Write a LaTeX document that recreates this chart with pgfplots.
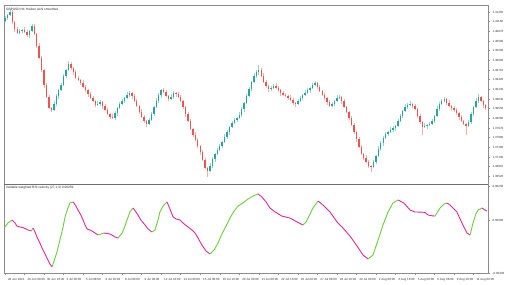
\documentclass[border=0pt]{standalone}
\usepackage{fontspec}
\setmainfont{Liberation Sans}
\usepackage{pgfplots}
\usepackage{pgfplotstable}
\pgfplotsset{compat=1.18}
\definecolor{upc}{RGB}{38,166,154}
\definecolor{dnc}{RGB}{239,83,80}
\definecolor{upw}{RGB}{150,212,206}
\definecolor{dnw}{RGB}{246,176,174}
\definecolor{vgreen}{RGB}{110,205,60}
\definecolor{vpink}{RGB}{225,40,150}
\definecolor{framec}{RGB}{140,140,140}

\pgfplotstableread{
i o c h l
0 1.4118 1.4127 1.4133 1.4114
1 1.4127 1.4136 1.4139 1.4120
2 1.4136 1.4145 1.4153 1.4133
3 1.4145 1.4115 1.4150 1.4110
4 1.4115 1.4094 1.4119 1.4085
5 1.4094 1.4082 1.4101 1.4080
6 1.4082 1.4088 1.4094 1.4078
7 1.4088 1.4091 1.4094 1.4081
8 1.4091 1.4085 1.4099 1.4082
9 1.4085 1.4076 1.4090 1.4071
10 1.4076 1.4088 1.4092 1.4067
11 1.4088 1.4103 1.4110 1.4086
12 1.4103 1.4079 1.4109 1.4075
13 1.4079 1.4043 1.4082 1.4036
14 1.4043 1.4007 1.4051 1.4004
15 1.4007 1.3971 1.4012 1.3966
16 1.3971 1.3926 1.3975 1.3917
17 1.3926 1.3890 1.3933 1.3888
18 1.3890 1.3857 1.3896 1.3853
19 1.3857 1.3851 1.3860 1.3844
20 1.3851 1.3869 1.3877 1.3848
21 1.3869 1.3893 1.3898 1.3864
22 1.3893 1.3911 1.3915 1.3884
23 1.3911 1.3926 1.3933 1.3909
24 1.3926 1.3953 1.3959 1.3922
25 1.3953 1.3971 1.3974 1.3946
26 1.3971 1.3989 1.3997 1.3968
27 1.3989 1.3977 1.3994 1.3972
28 1.3977 1.3965 1.3981 1.3956
29 1.3965 1.3947 1.3972 1.3945
30 1.3947 1.3941 1.3953 1.3937
31 1.3941 1.3932 1.3944 1.3925
32 1.3932 1.3920 1.3940 1.3917
33 1.3920 1.3911 1.3925 1.3906
34 1.3911 1.3899 1.3915 1.3890
35 1.3899 1.3887 1.3906 1.3885
36 1.3887 1.3878 1.3893 1.3874
37 1.3878 1.3866 1.3881 1.3859
38 1.3866 1.3869 1.3877 1.3863
39 1.3869 1.3875 1.3880 1.3864
40 1.3875 1.3863 1.3879 1.3854
41 1.3863 1.3851 1.3870 1.3849
42 1.3851 1.3839 1.3857 1.3835
43 1.3839 1.3830 1.3842 1.3823
44 1.3830 1.3827 1.3838 1.3824
45 1.3827 1.3842 1.3847 1.3822
46 1.3842 1.3857 1.3861 1.3833
47 1.3857 1.3869 1.3876 1.3855
48 1.3869 1.3878 1.3884 1.3865
49 1.3878 1.3887 1.3890 1.3871
50 1.3887 1.3896 1.3904 1.3884
51 1.3896 1.3902 1.3907 1.3891
52 1.3902 1.3893 1.3906 1.3884
53 1.3893 1.3878 1.3900 1.3876
54 1.3878 1.3863 1.3884 1.3859
55 1.3863 1.3845 1.3866 1.3838
56 1.3845 1.3830 1.3853 1.3827
57 1.3830 1.3818 1.3835 1.3813
58 1.3818 1.3809 1.3822 1.3800
59 1.3809 1.3821 1.3828 1.3807
60 1.3821 1.3839 1.3845 1.3817
61 1.3839 1.3860 1.3863 1.3832
62 1.3860 1.3878 1.3886 1.3857
63 1.3878 1.3896 1.3901 1.3873
64 1.3896 1.3911 1.3915 1.3887
65 1.3911 1.3905 1.3918 1.3903
66 1.3905 1.3893 1.3911 1.3889
67 1.3893 1.3884 1.3896 1.3877
68 1.3884 1.3890 1.3898 1.3881
69 1.3890 1.3902 1.3907 1.3885
70 1.3902 1.3899 1.3906 1.3890
71 1.3899 1.3890 1.3906 1.3888
72 1.3890 1.3878 1.3896 1.3874
73 1.3878 1.3860 1.3881 1.3855
74 1.3860 1.3839 1.3864 1.3830
75 1.3839 1.3818 1.3846 1.3816
76 1.3818 1.3794 1.3824 1.3790
77 1.3794 1.3776 1.3797 1.3769
78 1.3776 1.3761 1.3784 1.3758
79 1.3761 1.3743 1.3766 1.3738
80 1.3743 1.3725 1.3747 1.3716
81 1.3725 1.3701 1.3732 1.3699
82 1.3701 1.3677 1.3707 1.3673
83 1.3677 1.3668 1.3680 1.3650
84 1.3668 1.3683 1.3691 1.3665
85 1.3683 1.3704 1.3709 1.3678
86 1.3704 1.3719 1.3723 1.3695
87 1.3719 1.3731 1.3738 1.3716
88 1.3731 1.3743 1.3749 1.3727
89 1.3743 1.3755 1.3758 1.3736
90 1.3755 1.3770 1.3778 1.3752
91 1.3770 1.3785 1.3790 1.3765
92 1.3785 1.3800 1.3804 1.3776
93 1.3800 1.3812 1.3819 1.3797
94 1.3812 1.3821 1.3827 1.3808
95 1.3821 1.3827 1.3830 1.3814
96 1.3827 1.3836 1.3844 1.3824
97 1.3836 1.3854 1.3859 1.3831
98 1.3854 1.3872 1.3876 1.3845
99 1.3872 1.3893 1.3900 1.3870
100 1.3893 1.3914 1.3920 1.3889
101 1.3914 1.3935 1.3938 1.3907
102 1.3935 1.3953 1.3961 1.3932
103 1.3953 1.3965 1.3970 1.3948
104 1.3965 1.3971 1.3985 1.3956
105 1.3971 1.3953 1.3978 1.3951
106 1.3953 1.3935 1.3961 1.3932
107 1.3935 1.3923 1.3940 1.3916
108 1.3923 1.3914 1.3926 1.3905
109 1.3914 1.3917 1.3924 1.3909
110 1.3917 1.3923 1.3928 1.3913
111 1.3923 1.3917 1.3931 1.3914
112 1.3917 1.3911 1.3922 1.3906
113 1.3911 1.3902 1.3915 1.3893
114 1.3902 1.3896 1.3909 1.3894
115 1.3896 1.3893 1.3902 1.3889
116 1.3893 1.3887 1.3896 1.3880
117 1.3887 1.3881 1.3895 1.3878
118 1.3881 1.3872 1.3886 1.3867
119 1.3872 1.3869 1.3876 1.3860
120 1.3869 1.3878 1.3885 1.3867
121 1.3878 1.3887 1.3893 1.3874
122 1.3887 1.3896 1.3899 1.3880
123 1.3896 1.3902 1.3910 1.3893
124 1.3902 1.3911 1.3916 1.3898
125 1.3911 1.3917 1.3921 1.3902
126 1.3917 1.3926 1.3933 1.3915
127 1.3926 1.3932 1.3938 1.3922
128 1.3932 1.3920 1.3935 1.3913
129 1.3920 1.3908 1.3925 1.3906
130 1.3908 1.3896 1.3912 1.3892
131 1.3896 1.3887 1.3903 1.3880
132 1.3887 1.3875 1.3890 1.3866
133 1.3875 1.3863 1.3882 1.3861
134 1.3863 1.3869 1.3875 1.3859
135 1.3869 1.3878 1.3881 1.3862
136 1.3878 1.3887 1.3895 1.3875
137 1.3887 1.3890 1.3896 1.3883
138 1.3890 1.3878 1.3894 1.3869
139 1.3878 1.3860 1.3885 1.3858
140 1.3860 1.3845 1.3864 1.3841
141 1.3845 1.3827 1.3848 1.3820
142 1.3827 1.3806 1.3833 1.3803
143 1.3806 1.3785 1.3811 1.3780
144 1.3785 1.3764 1.3789 1.3755
145 1.3764 1.3740 1.3771 1.3738
146 1.3740 1.3719 1.3746 1.3715
147 1.3719 1.3707 1.3722 1.3700
148 1.3707 1.3695 1.3715 1.3692
149 1.3695 1.3683 1.3700 1.3678
150 1.3683 1.3680 1.3687 1.3665
151 1.3680 1.3695 1.3702 1.3678
152 1.3695 1.3713 1.3716 1.3688
153 1.3713 1.3734 1.3742 1.3710
154 1.3734 1.3752 1.3757 1.3729
155 1.3752 1.3767 1.3772 1.3743
156 1.3767 1.3779 1.3786 1.3765
157 1.3779 1.3785 1.3788 1.3772
158 1.3785 1.3791 1.3799 1.3782
159 1.3791 1.3797 1.3802 1.3786
160 1.3797 1.3803 1.3807 1.3788
161 1.3803 1.3818 1.3825 1.3801
162 1.3818 1.3833 1.3839 1.3814
163 1.3833 1.3848 1.3851 1.3826
164 1.3848 1.3860 1.3868 1.3845
165 1.3860 1.3866 1.3871 1.3855
166 1.3866 1.3869 1.3878 1.3864
167 1.3869 1.3863 1.3872 1.3856
168 1.3863 1.3854 1.3869 1.3851
169 1.3854 1.3833 1.3858 1.3828
170 1.3833 1.3815 1.3840 1.3809
171 1.3815 1.3800 1.3818 1.3776
172 1.3800 1.3803 1.3811 1.3797
173 1.3803 1.3806 1.3810 1.3795
174 1.3806 1.3809 1.3815 1.3802
175 1.3809 1.3818 1.3823 1.3805
176 1.3818 1.3833 1.3836 1.3811
177 1.3833 1.3854 1.3862 1.3830
178 1.3854 1.3869 1.3874 1.3849
179 1.3869 1.3878 1.3883 1.3865
180 1.3878 1.3884 1.3891 1.3876
181 1.3884 1.3872 1.3887 1.3865
182 1.3872 1.3863 1.3880 1.3861
183 1.3863 1.3857 1.3867 1.3848
184 1.3857 1.3851 1.3862 1.3846
185 1.3851 1.3842 1.3856 1.3837
186 1.3842 1.3830 1.3846 1.3821
187 1.3830 1.3818 1.3837 1.3816
188 1.3818 1.3809 1.3822 1.3805
189 1.3809 1.3803 1.3813 1.3776
190 1.3803 1.3815 1.3822 1.3801
191 1.3815 1.3839 1.3845 1.3810
192 1.3839 1.3860 1.3863 1.3832
193 1.3860 1.3878 1.3886 1.3857
194 1.3878 1.3890 1.3898 1.3873
195 1.3890 1.3878 1.3894 1.3876
196 1.3878 1.3866 1.3881 1.3857
197 1.3866 1.3857 1.3870 1.3852
}\candles

\pgfplotsset{
  mtpane/.style={
    scale only axis, width=484pt, anchor=south west,
    xmin=-0.41, xmax=197.95,
    scaled y ticks=false, scaled x ticks=false,
    axis line style={framec, line width=0.5pt},
    tick style={framec, line width=0.4pt},
    tick align=outside, major tick length=2pt,
    ytick pos=right, yticklabel pos=right,
    yticklabel style={font=\fontsize{3}{3.5}\selectfont, text=black!80, anchor=west, xshift=-1pt},
    unbounded coords=discard,
  },
}

\begin{document}
\begin{tikzpicture}
\useasboundingbox (0pt,0pt) rectangle (517pt,284pt);
% ---------- price pane ----------
\begin{axis}[mtpane, at={(4pt,100pt)}, height=179pt,
  ymin=1.3629, ymax=1.4166,
  xtick=\empty,
  ytick={1.4145,1.4116,1.4087,1.4058,1.4029,1.4000,1.3971,1.3942,1.3913,1.3884,1.3855,1.3826,1.3797,1.3768,1.3739,1.3710,1.3681,1.3652},
  yticklabels={1.41450,1.41160,1.40870,1.40580,1.40290,1.40000,1.39710,1.39420,1.39130,1.38840,1.38550,1.38260,1.37970,1.37680,1.37390,1.37100,1.36810,1.36520},
]
% wicks
\addplot[quiver={u=0, v=\thisrow{h}-\thisrow{l}}, dnw, line width=0.6pt,
  x filter/.expression={\thisrow{c}<\thisrow{o} ? x : nan}]
  table[x=i, y=l] {\candles};
\addplot[quiver={u=0, v=\thisrow{h}-\thisrow{l}}, upw, line width=0.6pt,
  x filter/.expression={\thisrow{c}>\thisrow{o} ? x : nan}]
  table[x=i, y=l] {\candles};
% bodies
\addplot[quiver={u=0, v=\thisrow{c}-\thisrow{o}}, dnc, line width=1.4pt, line cap=butt,
  x filter/.expression={\thisrow{c}<\thisrow{o} ? x : nan}]
  table[x=i, y=o] {\candles};
\addplot[quiver={u=0, v=\thisrow{c}-\thisrow{o}}, upc, line width=1.4pt, line cap=butt,
  x filter/.expression={\thisrow{c}>\thisrow{o} ? x : nan}]
  table[x=i, y=o] {\candles};
\node[anchor=north west, inner sep=0pt, font=\fontsize{3.2}{3.6}\selectfont, text=black!85]
  at (rel axis cs:0.004,0.985) {GBPUSD,H4\enspace Heiken Ashi smoothed};
\end{axis}
% ---------- indicator pane ----------
\begin{axis}[mtpane, at={(4pt,11pt)}, height=89pt,
  ymin=-0.004028, ymax=0.002736,
  ytick={-0.00403,0,0.00258},
  yticklabels={-0.00403,0.00000,0.00258},
  xtick={0,8,...,192},
  xtick pos=left, xticklabel pos=left,
  xticklabels={28 Jun 2021,29 Jun 08:00,30 Jun 16:00,2 Jul 00:00,5 Jul 08:00,6 Jul 16:00,8 Jul 00:00,9 Jul 08:00,12 Jul 16:00,14 Jul 00:00,15 Jul 08:00,16 Jul 16:00,20 Jul 00:00,21 Jul 08:00,22 Jul 16:00,26 Jul 00:00,27 Jul 08:00,28 Jul 16:00,30 Jul 00:00,2 Aug 08:00,3 Aug 16:00,5 Aug 00:00,6 Aug 08:00,9 Aug 16:00,11 Aug 00:00},
  xticklabel style={font=\fontsize{3}{3.5}\selectfont, text=black!80, anchor=north west, xshift=-0.5pt, yshift=0.5pt},
  vg/.style={vgreen, line width=0.9pt, line join=round},
  vp/.style={vpink, line width=0.9pt, line join=round},
]
\addplot[vg] coordinates {(0,-0.00053) (1.2,-0.00023) (2.9,0)};
\addplot[vp] coordinates {(2.9,0) (4.1,-0.00023) (4.9,-0.00046) (6.1,-0.00053) (7.4,-0.00058) (8.6,-0.00068) (9.4,-0.00076) (10.7,-0.00084)};
\addplot[vg] coordinates {(10.7,-0.00084) (11.5,-0.00061)};
\addplot[vp] coordinates {(11.5,-0.00061) (12.3,-0.00091) (13.1,-0.00129) (14.3,-0.00175) (15.2,-0.00213) (16.4,-0.00258) (17.2,-0.00289) (18.4,-0.00334) (19.3,-0.00357)};
\addplot[vg] coordinates {(19.3,-0.00357) (20.5,-0.00289) (21.3,-0.00243) (22.5,-0.00152) (23.8,-0.00053) (24.6,0.00023) (25.8,0.00091) (26.6,0.00129) (27.9,0.00137)};
\addplot[vp] coordinates {(27.9,0.00137) (29.1,0.00106) (29.9,0.00076) (31.1,0.00038) (32.0,0) (32.8,-0.00038) (33.6,-0.00068) (34.8,-0.00076) (35.7,-0.00084) (36.9,-0.00099) (38.1,-0.00114)};
\addplot[vg] coordinates {(38.1,-0.00114) (40.6,-0.00099)};
\addplot[vp] coordinates {(40.6,-0.00099) (43.0,-0.00106) (45.1,-0.00129) (46.3,-0.00137)};
\addplot[vg] coordinates {(46.3,-0.00137) (48.0,-0.00099) (49.2,-0.00046) (50.0,0) (51.2,0.00061) (52.5,0.00091)};
\addplot[vp] coordinates {(52.5,0.00091) (53.7,0.00061) (54.5,0.00038) (55.7,0) (57.4,-0.00038) (58.6,-0.00068) (60.2,-0.00091)};
\addplot[vg] coordinates {(60.2,-0.00091) (61.5,-0.00076) (62.7,0) (63.5,0.00061) (64.8,0.00106) (66.4,0.00137)};
\addplot[vp] coordinates {(66.4,0.00137) (67.6,0.00084) (68.9,0.00023) (70.1,0.00008) (71.7,0) (73.4,-0.00030) (75.0,-0.00053) (76.6,-0.00076) (77.9,-0.00099) (79.1,-0.00137) (80.7,-0.00190) (82.4,-0.00236) (84.0,-0.00258)};
\addplot[vg] coordinates {(84.0,-0.00258) (85.7,-0.00228) (87.3,-0.00175) (88.9,-0.00106) (90.6,-0.00046) (92.2,0.00015) (93.9,0.00068) (95.5,0.00106) (97.5,0.00129) (99.6,0.00160) (101.6,0.00182) (103.7,0.00198)};
\addplot[vp] coordinates {(103.7,0.00198) (105.3,0.00175) (107.0,0.00137) (108.6,0.00091) (110.7,0.00061) (113.5,0.00030) (116.8,0.00015) (119.7,-0.00015) (122.1,-0.00038)};
\addplot[vg] coordinates {(122.1,-0.00038) (123.4,-0.00015) (124.6,0.00030) (126.2,0.00091) (128.3,0.00144)};
\addplot[vp] coordinates {(128.3,0.00144) (130.3,0.00114) (133.2,0.00061) (136.1,-0.00015) (138.5,-0.00061) (141.4,-0.00122) (144.3,-0.00198) (146.7,-0.00266) (148.8,-0.00296)};
\addplot[vg] coordinates {(148.8,-0.00296) (150.8,-0.00266) (152.9,-0.00152) (154.9,-0.00038) (157.0,0.00061) (159.0,0.00129) (161.1,0.00152)};
\addplot[vp] coordinates {(161.1,0.00152) (163.5,0.00129) (166.0,0.00076) (168.0,0.00061) (170.1,0.00060) (172.1,0.00058) (173.4,0.00038) (175.0,0.00032) (176.2,0.00030)};
\addplot[vg] coordinates {(176.2,0.00030) (178.3,0.00091) (179.9,0.00122) (181.1,0.00129)};
\addplot[vp] coordinates {(181.1,0.00129) (182.4,0.00114) (183.6,0.00091) (185.2,0.00061) (187.3,-0.00023) (189.3,-0.00099) (190.6,-0.00114)};
\addplot[vg] coordinates {(190.6,-0.00114) (191.8,-0.00023) (193.0,0.00046) (193.9,0.00076) (195.5,0.00091)};
\addplot[vp] coordinates {(195.5,0.00091) (196.7,0.00076) (197.5,0.00068)};
\draw[framec!80!black, line width=1.1pt] (rel axis cs:0,1) -- (rel axis cs:1,1);
\node[anchor=north west, inner sep=0pt, font=\fontsize{3.2}{3.6}\selectfont, text=black!85]
  at (rel axis cs:0.004,0.975) {Variable weighted RSI velocity (27,1,3) 0.00259};
\end{axis}
\end{tikzpicture}
\end{document}
